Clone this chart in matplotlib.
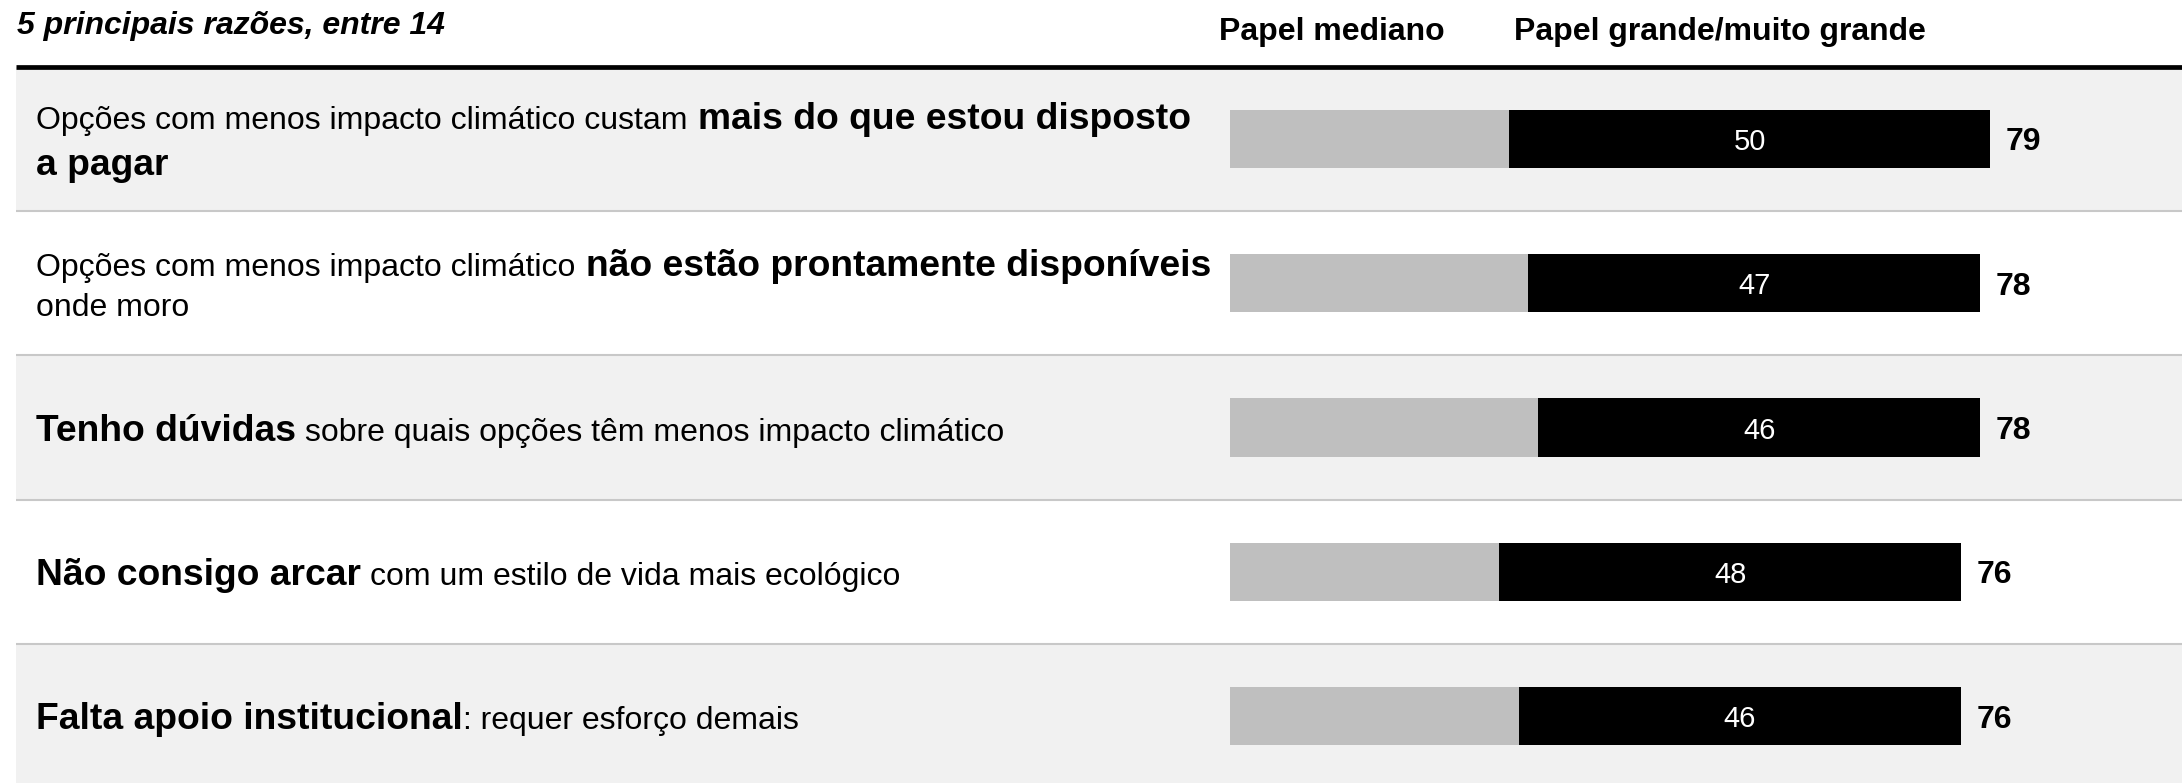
import matplotlib
matplotlib.use("Agg")
import matplotlib.pyplot as plt
from matplotlib import transforms

plt.rcParams["font.family"] = ["Liberation Sans", "DejaVu Sans"]

# each reason: lines of (text, bold) pieces; a leading space means "add a gap"
reasons = [
    [[("Opções com menos impacto climático custam", False),
      (" mais do que estou disposto", True)],
     [("a pagar", True)]],
    [[("Opções com menos impacto climático", False),
      (" não estão prontamente disponíveis", True)],
     [("onde moro", False)]],
    [[("Tenho dúvidas", True),
      (" sobre quais opções têm menos impacto climático", False)]],
    [[("Não consigo arcar", True),
      (" com um estilo de vida mais ecológico", False)]],
    [[("Falta apoio institucional", True),
      (": requer esforço demais", False)]],
]
medium_role = [29, 31, 32, 28, 30]
big_role = [50, 47, 46, 48, 46]
totals = [m + b for m, b in zip(medium_role, big_role)]

title = "5 principais razões, entre 14"
headers = ["Papel mediano", "Papel grande/muito grande"]

W, H, DPI = 2182, 783, 100
top_px = 66.8        # header rule / first band top
band_px = 144.3      # row height
unit_px = 9.62       # pixels per percentage point
zero_px = 1230       # where the bars start
left_px = 16

NORMAL = 23.0
BOLD = 26.8
BAND = "#f1f1f1"
GREY = "#bfbfbf"

fig = plt.figure(figsize=(W / DPI, H / DPI), dpi=DPI)
ax = fig.add_axes([left_px / W, 0, 1 - left_px / W, (H - top_px) / H])
ax.set_xlim(-(zero_px - left_px) / unit_px, (W - zero_px) / unit_px)
ax.set_ylim(-0.5 + (H - top_px) / band_px, -0.5)
ax.axis("off")

y = list(range(len(reasons)))
for i in y:
    if i % 2 == 0:
        ax.axhspan(i - 0.5, i + 0.5, color=BAND, lw=0, zorder=0)
for i in y[:-1]:
    ax.axhline(i + 0.5, color="#c8c8c8", lw=1.5, zorder=1, solid_capstyle="butt")
ax.axhline(-0.5, color="black", lw=3.4, clip_on=False, zorder=3,
           solid_capstyle="butt")

ax.barh(y, medium_role, height=0.405, color=GREY, zorder=2)
ax.barh(y, big_role, left=medium_role, height=0.405, color="black", zorder=2)

for i in y:
    ax.text(medium_role[i] + big_role[i] / 2, i, str(big_role[i]),
            color="white", ha="center", va="center_baseline", fontsize=21, zorder=4)
    ax.annotate(str(totals[i]), (totals[i], i), xytext=(11, 0),
                textcoords="offset points", ha="left", va="center_baseline",
                fontsize=NORMAL, fontweight="bold")

# rich-text labels, one piece after another
renderer = fig.canvas.get_renderer()
base = transforms.blended_transform_factory(fig.transFigure, ax.transData)
for i, lines in enumerate(reasons):
    sizes = [max(BOLD if b else NORMAL for _, b in line) for line in lines]
    advances = [s * DPI / 72 * 1.24 for s in sizes]
    block = sum(advances[1:])
    baseline = -block / 2 + 13
    for j, line in enumerate(lines):
        if j > 0:
            baseline += advances[j]
        x = 36.0
        for text, bold in line:
            size = BOLD if bold else NORMAL
            if text.startswith(" "):
                x += 0.278 * size * DPI / 72
            tr = transforms.offset_copy(base, fig, x=x, y=-baseline, units="dots")
            t = ax.text(0, i, text.strip(), transform=tr, ha="left", va="baseline",
                        fontsize=size, fontweight="bold" if bold else "normal")
            x += t.get_window_extent(renderer).width

fig.text(17 / W, 1 - 34 / H, title, fontsize=NORMAL, fontweight="bold",
         fontstyle="italic", va="baseline")
fig.text(1219 / W, 1 - 40 / H, headers[0], fontsize=NORMAL, fontweight="bold",
         va="baseline")
fig.text(1514 / W, 1 - 40 / H, headers[1], fontsize=NORMAL, fontweight="bold",
         va="baseline")

fig.savefig("out.png", dpi=DPI)
